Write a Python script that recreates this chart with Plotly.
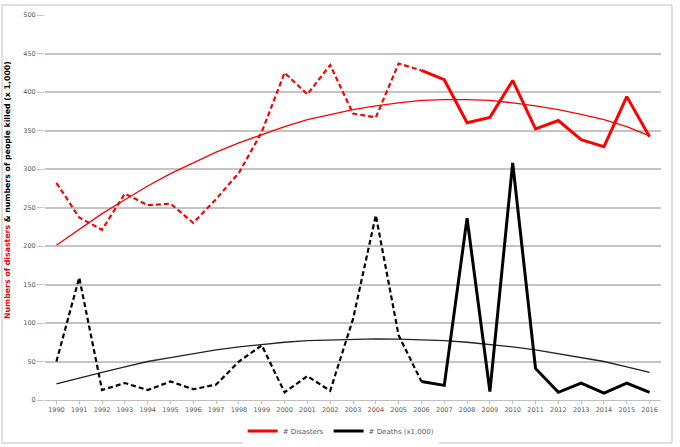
import plotly.graph_objects as go

years = list(range(1990, 2017))

disasters = [282, 237, 221, 268, 253, 255, 230, 261, 295, 348, 425, 397, 435, 372, 367,
             437, 428, 416, 360, 367, 415, 352, 363, 338, 329, 394, 342]
deaths = [50, 159, 13, 22, 13, 24, 14, 20, 50, 71, 10, 31, 12, 105, 240,
          84, 24, 19, 236, 11, 308, 41, 10, 22, 9, 22, 10]

# trendlines
disasters_trend = [201, 222, 242, 260, 278, 294, 308, 322, 334, 345, 355, 364, 371, 377, 382,
                   386, 389, 390, 390, 389, 386, 382, 377, 371, 364, 355, 343]
deaths_trend = [21, 29, 36, 43, 50, 55, 60, 65, 69, 72, 75, 77, 78, 79, 79.5,
                79, 78, 77, 75, 72, 69, 65, 60, 55, 50, 43, 36]

split = years.index(2006)
RED = "#ff0000"
BLK = "#000000"

fig = go.Figure()
# trends
fig.add_trace(go.Scatter(x=years, y=disasters_trend, mode="lines",
                         line=dict(color=RED, width=1.3), showlegend=False))
fig.add_trace(go.Scatter(x=years, y=deaths_trend, mode="lines",
                         line=dict(color="#222222", width=1.3), showlegend=False))
# dashed parts
fig.add_trace(go.Scatter(x=years[:split + 1], y=disasters[:split + 1], mode="lines",
                         line=dict(color=RED, width=2.2, dash="5px,3px"), showlegend=False))
fig.add_trace(go.Scatter(x=years[:split + 1], y=deaths[:split + 1], mode="lines",
                         line=dict(color=BLK, width=2.2, dash="5px,3px"), showlegend=False))
# solid parts
fig.add_trace(go.Scatter(x=years[split:], y=disasters[split:], mode="lines",
                         name="# Disasters", line=dict(color=RED, width=3)))
fig.add_trace(go.Scatter(x=years[split:], y=deaths[split:], mode="lines",
                         name="# Deaths (x1,000)", line=dict(color=BLK, width=3)))

L, R, T, B = 45, 19, 15, 47
W, H = 680, 447
pw, ph = W - L - R, H - T - B

def px_x(p):
    return (p - L) / pw

def px_y(p):
    return (H - B - p) / ph

fig.update_layout(
    width=W, height=H,
    margin=dict(l=L, r=R, t=T, b=B, autoexpand=False),
    paper_bgcolor="white", plot_bgcolor="white",
    font=dict(family="DejaVu Sans", size=7, color="#595959"),
    legend=dict(orientation="h", x=0.48, xanchor="center", y=px_y(431), yanchor="middle",
                font=dict(size=7, color="#595959"), itemwidth=30, tracegroupgap=0),
    xaxis=dict(range=[1989.5, 2016.5], tickmode="array", tickvals=years,
               ticktext=[str(y) for y in years], showgrid=False, showline=True,
               linecolor="#bfbfbf", linewidth=1, tickfont=dict(size=6.5, color="#595959"),
               zeroline=False, fixedrange=True, automargin=False,
               ticks="outside", ticklen=3, tickcolor="#bfbfbf"),
    yaxis=dict(range=[0, 500], dtick=50, showgrid=True, gridcolor="#c4c4c4", gridwidth=1.5,
               showline=False, ticks="outside", ticklen=7, tickcolor="#c4c4c4",
               tickfont=dict(size=6.5, color="#595959"), zeroline=False, automargin=False),
    annotations=[dict(text='<b><span style="color:#ff0000">Numbers of disasters</span>'
                           ' &amp; numbers of people killed (x 1,000)</b>',
                      xref="paper", yref="paper", x=px_x(7), y=px_y(190),
                      xanchor="center", yanchor="middle", textangle=-90, showarrow=False,
                      font=dict(size=7.8, color="#000000"))],
    shapes=[dict(type="rect", xref="paper", yref="paper",
                 x0=px_x(2), x1=px_x(672), y0=px_y(443), y1=px_y(5),
                 line=dict(color="#bfbfbf", width=1), layer="below")],
)

fig.write_html("out.html")
